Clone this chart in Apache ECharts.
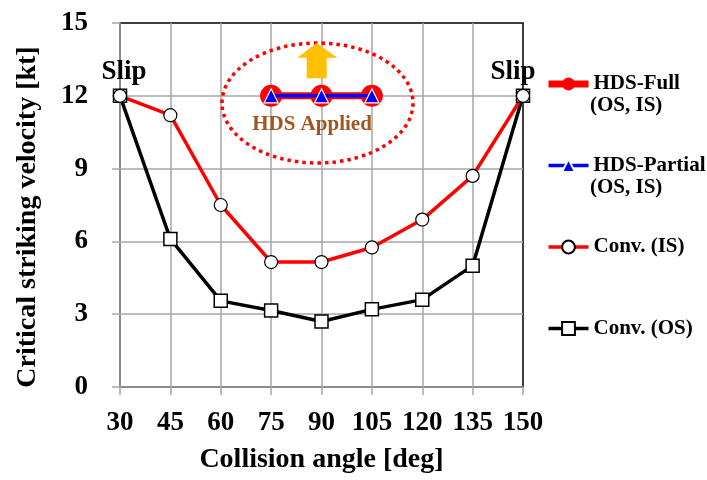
<!DOCTYPE html>
<html>
<head>
<meta charset="utf-8">
<script src="https://cdn.jsdelivr.net/npm/echarts@6/dist/echarts.min.js"></script>
<style>
  html, body { margin: 0; padding: 0; background: #fff; }
  #chart { width: 707px; height: 480px; }
</style>
</head>
<body>
<div id="chart"></div>
<script>
// data
const angles = [30, 45, 60, 75, 90, 105, 120, 135, 150]
const convIS = [12, 11.2, 7.5, 5.15, 5.15, 5.75, 6.9, 8.7, 12]
const convOS = [12, 6.1, 3.55, 3.15, 2.7, 3.2, 3.6, 5.0, 12]
const hdsAngles = [75, 90, 105]
const hdsFull = [12, 12, 12]
const hdsPartial = [12, 12, 12]
const slipAngles = [30, 150]

const FONT = "'Liberation Serif', 'Times New Roman', serif"
const GRID_GRAY = '#a6a6a6'

const chart = echarts.init(document.getElementById('chart'))

const pairs = (xs, ys) => xs.map((x, i) => [x, ys[i]])

// Conv. (OS) with the "Slip" labels on the end points
const osData = angles.map((a, i) => {
  const item = { value: [a, convOS[i]] }
  if (slipAngles.includes(a)) {
    item.label = {
      show: true,
      position: 'top',
      distance: 3,
      offset: [a === 30 ? 4 : -10, 0],
      formatter: 'Slip',
      color: '#000',
      fontFamily: FONT,
      fontWeight: 'bold',
      fontSize: 27,
    }
  }
  return item
})

const option = {
  animation: false,
  grid: {
    left: 120, right: 184, top: 23, bottom: 93,
    show: true, borderColor: '#000', borderWidth: 1.5,
  },
  xAxis: {
    type: 'value', min: 30, max: 150, interval: 15,
    name: 'Collision angle [deg]',
    nameLocation: 'middle', nameGap: 59,
    nameTextStyle: { fontFamily: FONT, fontWeight: 'bold', fontSize: 28, color: '#000' },
    axisLine: { show: true, onZero: false, lineStyle: { color: GRID_GRAY, width: 1.5 } },
    axisTick: { show: true, length: 8, lineStyle: { color: GRID_GRAY, width: 1.5 } },
    axisLabel: { margin: 23, fontFamily: FONT, fontWeight: 'bold', fontSize: 27, color: '#000' },
    splitLine: { show: true, showMinLine: false, showMaxLine: false, lineStyle: { color: GRID_GRAY, width: 1.5 } },
  },
  yAxis: {
    type: 'value', min: 0, max: 15, interval: 3,
    axisLine: { show: true, onZero: false, lineStyle: { color: GRID_GRAY, width: 1.5 } },
    axisTick: { show: true, length: 8, lineStyle: { color: GRID_GRAY, width: 1.5 } },
    axisLabel: { margin: 32, fontFamily: FONT, fontWeight: 'bold', fontSize: 27, color: '#000' },
    splitLine: { show: true, showMinLine: false, showMaxLine: false, lineStyle: { color: GRID_GRAY, width: 1.5 } },
  },
  legend: {
    orient: 'vertical',
    left: 540, top: 68,
    itemWidth: 40, itemHeight: 16, itemGap: 59.5,
    lineStyle: { width: 'inherit' },
    textStyle: { fontFamily: FONT, fontWeight: 'bold', fontSize: 21, color: '#000', lineHeight: 22 },
    data: ['HDS-Full', 'HDS-Partial', 'Conv. (IS)', 'Conv. (OS)'],
  },
  series: [
    {
      name: 'Conv. (OS)', type: 'line', z: 3,
      data: osData,
      symbol: 'rect', symbolSize: 13,
      lineStyle: { color: '#000', width: 3.5 },
      itemStyle: { color: '#fff', borderColor: '#000', borderWidth: 1.5 },
    },
    {
      name: 'Conv. (IS)', type: 'line', z: 3,
      data: pairs(angles, convIS),
      symbol: 'circle', symbolSize: 13,
      lineStyle: { color: '#ff0000', width: 3.5 },
      itemStyle: { color: '#fff', borderColor: '#000', borderWidth: 1.2 },
    },
    {
      name: 'HDS-Full', type: 'line', z: 4,
      data: pairs(hdsAngles, hdsFull),
      symbol: 'circle', symbolSize: 22,
      lineStyle: { color: '#ff0000', width: 7 },
      itemStyle: { color: '#ff0000' },
    },
    {
      name: 'HDS-Partial', type: 'line', z: 5,
      data: pairs(hdsAngles, hdsPartial),
      symbol: 'triangle', symbolSize: 14,
      lineStyle: { color: '#0000ff', width: 3.5 },
      itemStyle: { color: '#0000ff', borderColor: '#fff', borderWidth: 1.2 },
    },
  ],
  graphic: [
    {
      type: 'text', z: 10, x: 28, y: 217, rotation: Math.PI / 2,
      style: {
        text: 'Critical striking velocity [kt]', fill: '#000',
        font: 'bold 28px ' + FONT, align: 'center', verticalAlign: 'middle',
      },
    },
    {
      type: 'ellipse', z: 10,
      shape: { cx: 317.5, cy: 103, rx: 95.5, ry: 60 },
      style: { fill: null, stroke: '#ff0000', lineWidth: 3.5, lineDash: [3.5, 4] },
    },
    {
      type: 'polygon', z: 11,
      shape: { points: [[316.7, 43], [337.3, 57.7], [326.7, 57.7], [326.7, 78.3], [306.7, 78.3], [306.7, 57.7], [297.3, 57.7]] },
      style: { fill: '#ffc000' },
    },
    {
      type: 'text', z: 10, x: 312, y: 125,
      style: { text: 'HDS Applied', fill: '#a0561c', font: 'bold 21px ' + FONT, align: 'center', verticalAlign: 'middle' },
    },
    {
      type: 'text', z: 10, x: 590, y: 106,
      style: { text: '(OS, IS)', fill: '#000', font: 'bold 21px ' + FONT, verticalAlign: 'middle' },
    },
    {
      type: 'text', z: 10, x: 590, y: 188,
      style: { text: '(OS, IS)', fill: '#000', font: 'bold 21px ' + FONT, verticalAlign: 'middle' },
    },
  ],
}

chart.setOption(option)
</script>
</body>
</html>
